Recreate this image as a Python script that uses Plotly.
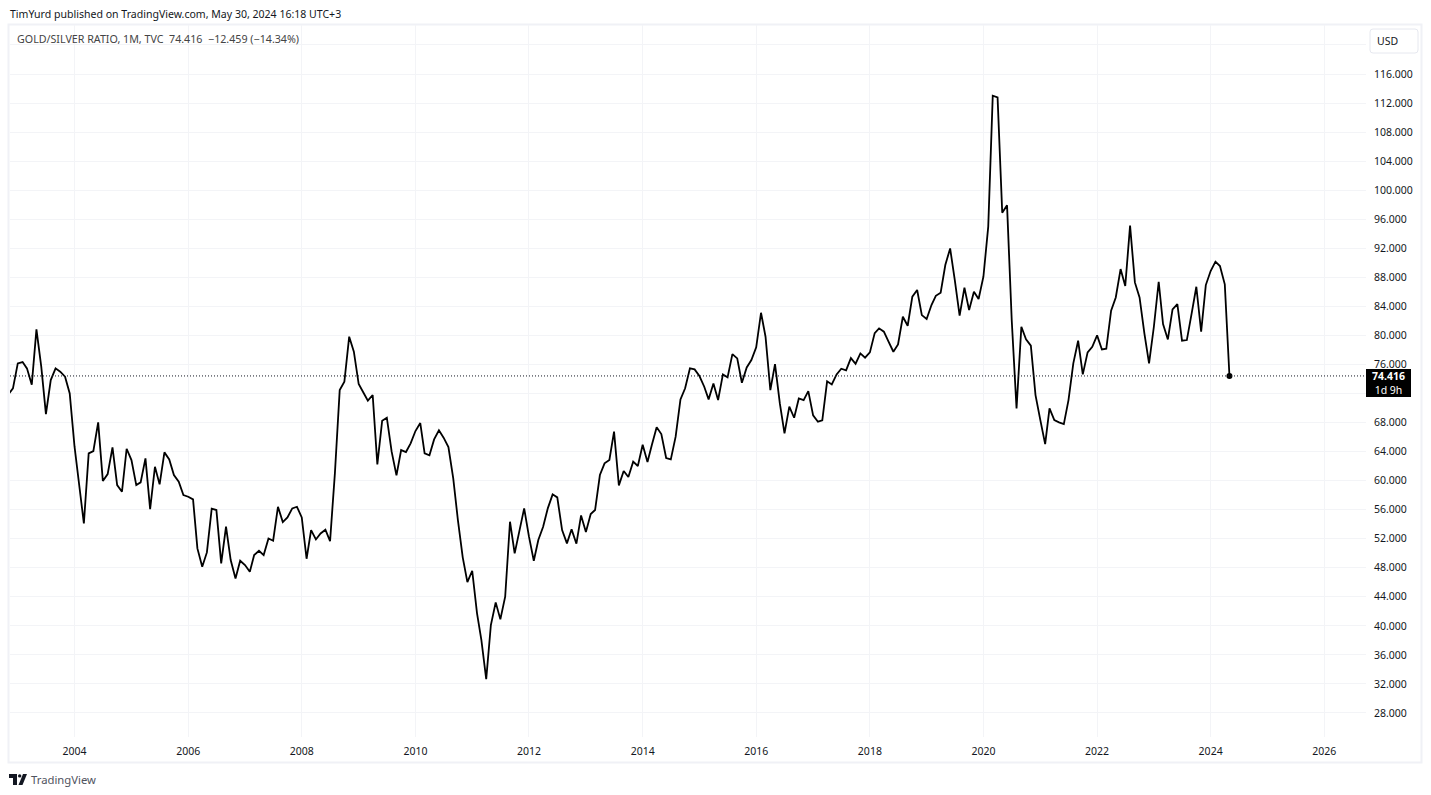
import pandas as pd
import plotly.graph_objects as go

# monthly closes, one row per calendar year (Nov 2002 .. May 2024)
ratio_close = [
    71.88, 72.70,
    76.15, 76.33, 75.46, 73.21, 80.83, 75.69, 69.17, 73.85, 75.46, 75.00, 74.31, 72.01,
    64.67, 59.62, 54.11, 63.75, 64.07, 68.02, 59.94, 60.90, 64.58, 59.39, 58.47, 64.39,
    62.83, 59.39, 59.76, 63.06, 56.08, 61.91, 59.48, 63.89, 62.92, 60.77, 59.85, 58.01,
    57.78, 57.41, 50.66, 48.14, 50.11, 56.13, 55.95, 48.60, 53.65, 49.06, 46.53, 48.97,
    48.37, 47.45, 49.75, 50.34, 49.75, 52.04, 51.72, 56.40, 54.29, 54.93, 56.17, 56.40,
    54.93, 49.24, 53.19, 51.90, 52.73, 53.23, 51.67, 61.00, 72.47, 73.62, 79.82, 77.76,
    73.30, 72.11, 71.01, 71.79, 62.24, 68.25, 68.67, 63.98, 60.72, 64.21, 63.94, 65.13,
    66.83, 67.93, 63.75, 63.48, 65.68, 66.92, 65.91, 64.63, 60.31, 54.57, 49.43, 46.03,
    47.59, 41.72, 38.04, 32.67, 40.11, 43.23, 40.89, 44.01, 54.34, 49.98, 53.19, 56.18,
    52.28, 48.97, 51.82, 53.65, 56.18, 58.11, 57.69, 53.19, 51.36, 53.29, 51.31, 55.21,
    52.92, 55.40, 55.95, 60.77, 62.38, 62.84, 66.74, 59.35, 61.32, 60.49, 62.61, 62.01,
    64.95, 62.56, 64.90, 67.34, 66.42, 63.11, 62.93, 66.05, 71.19, 72.71, 75.46, 75.32,
    74.40, 72.93, 71.19, 73.39, 71.09, 74.63, 74.22, 77.43, 76.83, 73.48, 75.59, 76.60,
    78.35, 83.12, 79.82, 72.47, 76.05, 70.63, 66.50, 70.18, 68.66, 71.32, 71.09, 72.33,
    68.98, 68.11, 68.29, 73.67, 73.25, 74.63, 75.41, 75.18, 76.88, 76.10, 77.52, 76.93,
    77.66, 80.32, 80.97, 80.51, 79.13, 77.75, 78.76, 82.57, 81.33, 85.33, 86.25, 82.80,
    82.25, 84.18, 85.46, 85.88, 89.69, 91.98, 87.62, 82.71, 86.57, 83.49, 86.02, 85.01,
    88.08, 94.97, 113.01, 112.78, 96.90, 97.91, 82.11, 69.95, 81.19, 79.45, 78.58, 71.78,
    68.34, 65.03, 69.95, 68.34, 68.02, 67.79, 71.09, 76.14, 79.27, 74.63, 77.66, 78.44,
    80.00, 78.07, 78.16, 83.40, 85.23, 89.14, 86.80, 95.11, 87.30, 85.23, 80.28, 76.14,
    81.19, 87.39, 81.56, 79.45, 83.58, 84.32, 79.27, 79.36, 83.03, 86.70, 80.50, 86.93,
    88.86, 90.15, 89.55, 87.03, 74.416,
]
months = pd.date_range("2002-11-01", periods=len(ratio_close), freq="MS")

price_ticks = list(range(28, 124, 4))
# 72 sits under the price tag, 120 under the USD button
price_labels = ["" if p in (72, 120) else f"{p:.3f}" for p in price_ticks]

W, H = 1431, 795
L, R, T, B = 10, 1366, 25, 737
FONT = "Noto Sans"
GRID = "#f3f4f7"
INK = "#131722"


def px(x):
    return (x - L) / (R - L)


def py(y):
    return (B - y) / (B - T)


def label(x, y, text, size=10.5, color=INK, anchor="left"):
    return dict(x=px(x), y=py(y), xref="paper", yref="paper", text=text, showarrow=False,
                xanchor=anchor, yanchor="middle", font=dict(family=FONT, size=size, color=color))


def poly(points, fill):
    path = "M" + " L".join(f"{px(x):.5f},{py(y):.5f}" for x, y in points) + " Z"
    return dict(type="path", xref="paper", yref="paper", path=path, fillcolor=fill, line_width=0)


fig = go.Figure()
fig.add_trace(go.Scatter(x=months, y=ratio_close, mode="lines",
                         line=dict(color="#000000", width=1.8), showlegend=False))
fig.add_trace(go.Scatter(x=months[-1:], y=ratio_close[-1:], mode="markers",
                         marker=dict(color="#000000", size=6), showlegend=False))

shapes = [
    # outer frame
    dict(type="rect", xref="paper", yref="paper", x0=px(8.5), x1=px(1421.5), y0=py(762.5), y1=py(24.5),
         line=dict(color="#f0f1f6", width=2), layer="below"),
    # last price line
    dict(type="line", xref="paper", yref="y", x0=0, x1=1, y0=ratio_close[-1], y1=ratio_close[-1],
         line=dict(color=INK, width=1, dash="1px,2px")),
    # price tag
    dict(type="rect", xref="paper", yref="paper", x0=px(1366), x1=px(1411), y0=py(397), y1=py(369),
         fillcolor="#000000", line_width=0),
    # USD button
    dict(type="path", xref="paper", yref="paper", line=dict(color="#e6e8ef", width=1), fillcolor="#ffffff",
         path=f"M{px(1373):.5f},{py(29):.5f} L{px(1415):.5f},{py(29):.5f} "
              f"Q{px(1418):.5f},{py(29):.5f} {px(1418):.5f},{py(32):.5f} L{px(1418):.5f},{py(50):.5f} "
              f"Q{px(1418):.5f},{py(53):.5f} {px(1415):.5f},{py(53):.5f} L{px(1373):.5f},{py(53):.5f} "
              f"Q{px(1370):.5f},{py(53):.5f} {px(1370):.5f},{py(50):.5f} L{px(1370):.5f},{py(32):.5f} "
              f"Q{px(1370):.5f},{py(29):.5f} {px(1373):.5f},{py(29):.5f} Z"),
    # TradingView mark
    poly([(9, 774), (17, 774), (17, 785), (13, 785), (13, 778), (9, 778)], "#131722"),
    dict(type="circle", xref="paper", yref="paper", x0=px(18), x1=px(21.4), y0=py(777.6), y1=py(774.2),
         fillcolor="#131722", line_width=0),
    poly([(23, 774), (27, 774), (22.5, 785), (18.5, 785)], "#131722"),
]

annotations = [
    label(8, 14, "TimYurd published on TradingView.com, May 30, 2024 16:18 UTC+3", size=10.55),
    label(15, 38.5, "GOLD/SILVER RATIO, 1M, TVC&nbsp;&nbsp;74.416&nbsp;&nbsp;−12.459 (−14.34%)", size=10.7, color="#444444"),
    label(1388.5, 383, "<b>74.416</b><br>1d 9h", color="#ffffff", anchor="center"),
    label(1387.5, 41, "USD", anchor="center"),
    label(29, 779, "TradingView", size=11.3, color="#50535e"),
]

fig.update_layout(
    width=W, height=H, autosize=False,
    margin=dict(l=L, r=W - R, t=T, b=H - B),
    paper_bgcolor="#ffffff", plot_bgcolor="#ffffff",
    font=dict(family=FONT, size=10.5, color=INK),
    shapes=shapes, annotations=annotations, showlegend=False,
    xaxis=dict(type="date", range=["2002-11-12", "2026-09-26"], tick0="2004-01-01", dtick="M24",
               tickformat="%Y", showgrid=True, gridcolor=GRID, gridwidth=1, zeroline=False, showline=False,
               ticks="", ticklabelstandoff=6, tickfont=dict(family=FONT, size=10.5, color=INK)),
    yaxis=dict(side="right", range=[24.69, 122.75], tickmode="array", tickvals=price_ticks, ticktext=price_labels,
               showgrid=True, gridcolor=GRID, gridwidth=1, zeroline=False, showline=False,
               ticks="", ticklabelstandoff=7, tickfont=dict(family=FONT, size=10.5, color=INK)),
)

fig.write_html("out.html", config=dict(displayModeBar=False), post_script="document.body.style.margin='0';")
